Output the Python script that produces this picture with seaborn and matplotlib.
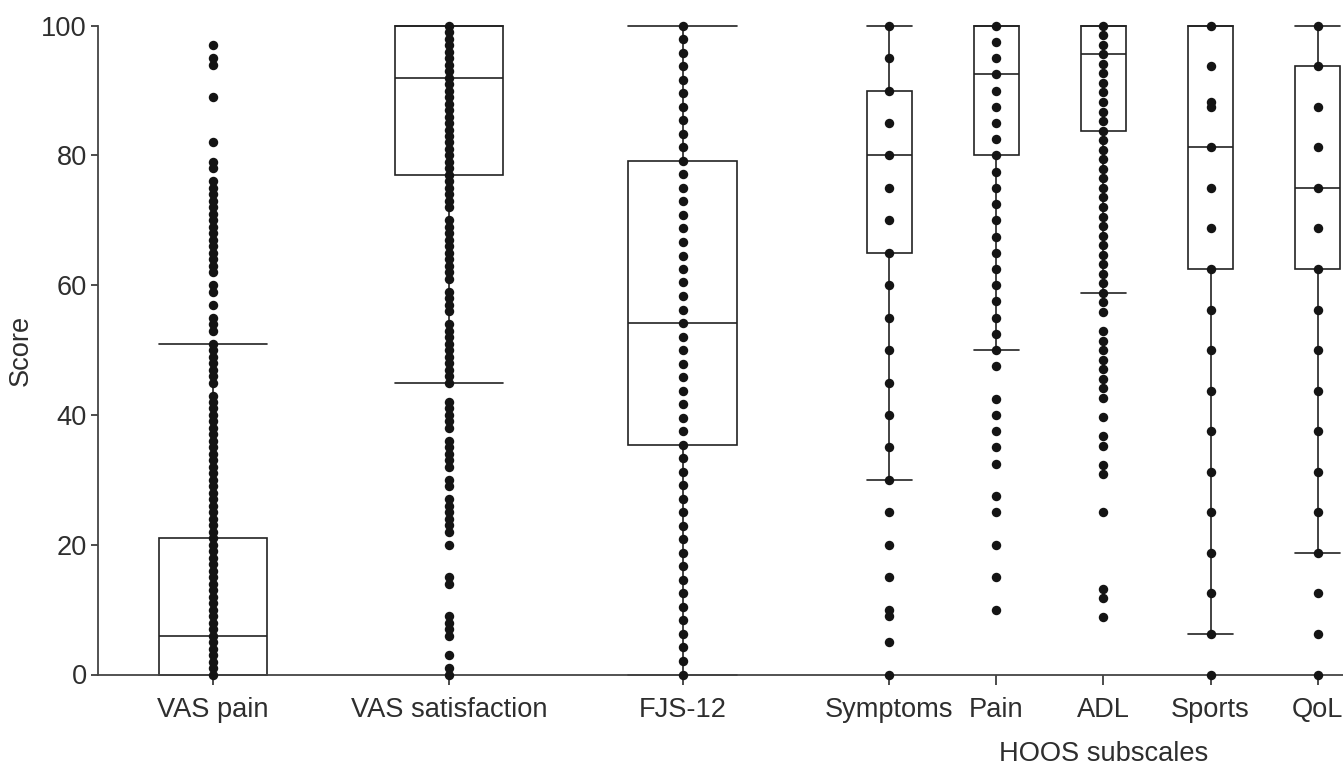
"""
plot.py - Patient-reported outcome scores: box plots with individual scores.
"""

import numpy as np
import pandas as pd
import matplotlib
matplotlib.use('Agg')
import matplotlib.pyplot as plt
import seaborn as sns

# ─────────────────────────────────────────────
# Data
# ─────────────────────────────────────────────

labels = ['VAS pain', 'VAS satisfaction', 'FJS-12',
          'Symptoms', 'Pain', 'ADL', 'Sports', 'QoL']

# box summaries: lower whisker, Q1, median, Q3, upper whisker
box_vas_pain = [0, 0, 6, 21, 51]
box_vas_sat  = [45, 77, 92, 100, 100]
box_fjs      = [0, 35.42, 54.17, 79.17, 100]
box_symptoms = [30, 65, 80, 90, 100]
box_pain     = [50, 80, 92.5, 100, 100]
box_adl      = [58.82, 83.82, 95.59, 100, 100]
box_sports   = [6.25, 62.5, 81.25, 100, 100]
box_qol      = [18.75, 62.5, 75, 93.75, 100]

# distinct individual scores shown as dots
dots_vas_pain = [0, 1, 2, 3, 4, 5, 6, 7, 8, 9, 10, 11, 12, 13, 14, 15, 16, 17,
                 18, 19, 20, 21, 22, 23, 24, 25, 26, 27, 28, 29, 30, 31, 32, 33,
                 34, 35, 36, 37, 38, 39, 40, 41, 42, 43, 45, 46, 47, 48, 49, 50,
                 51, 53, 54, 55, 57, 59, 60, 62, 63, 64, 65, 66, 67, 68, 69, 70,
                 71, 72, 73, 74, 75, 76, 78, 79, 82, 89, 94, 95, 97]
dots_vas_sat = [0, 1, 3, 6, 7, 8, 9, 14, 15, 20, 22, 23, 24, 25, 26, 27, 29, 30,
                32, 33, 34, 35, 36, 38, 39, 40, 41, 42, 45, 46, 47, 48, 49, 50,
                51, 52, 53, 54, 56, 57, 58, 59, 61, 62, 63, 64, 65, 66, 67, 68,
                69, 70, 72, 73, 74, 75, 76, 77, 78, 79, 80, 81, 82, 83, 84, 85,
                86, 87, 88, 89, 90, 91, 92, 93, 94, 95, 96, 97, 98, 99, 100]
dots_fjs = [0, 2.08, 4.17, 6.25, 8.33, 10.42, 12.5, 14.58, 16.67, 18.75, 20.83,
            22.92, 25, 27.08, 29.17, 31.25, 33.33, 35.42, 37.5, 39.58, 41.67,
            43.75, 45.83, 47.92, 50, 52.08, 54.17, 56.25, 58.33, 60.42, 62.5,
            64.58, 66.67, 68.75, 70.83, 72.92, 75, 77.08, 79.17, 81.25, 83.33,
            85.42, 87.5, 89.58, 91.67, 93.75, 95.83, 97.92, 100]
dots_symptoms = [0, 5, 9, 10, 15, 20, 25, 30, 35, 40, 45, 50, 55, 60, 65, 70,
                 75, 80, 85, 90, 95, 100]
dots_pain = [10, 15, 20, 25, 27.5, 32.5, 35, 37.5, 40, 42.5, 47.5, 50, 52.5, 55,
             57.5, 60, 62.5, 65, 67.5, 70, 72.5, 75, 77.5, 80, 82.5, 85, 87.5,
             90, 92.5, 95, 97.5, 100]
dots_adl = [8.82, 11.76, 13.24, 25.0, 30.88, 32.35, 35.29, 36.76, 39.71, 42.65,
            44.12, 45.59, 47.06, 48.53, 50.0, 51.47, 52.94, 55.88, 57.35, 58.82,
            60.29, 61.76, 63.24, 64.71, 66.18, 67.65, 69.12, 70.59, 72.06, 73.53,
            75.0, 76.47, 77.94, 79.41, 80.88, 82.35, 83.82, 85.29, 86.76, 88.24,
            89.71, 91.18, 92.65, 94.12, 95.59, 97.06, 98.53, 100]
dots_sports = [0, 6.25, 12.5, 18.75, 25, 31.25, 37.5, 43.75, 50, 56.25, 62.5,
               68.75, 75, 81.25, 87.5, 88.2, 93.75, 100]
dots_qol = [0, 6.25, 12.5, 18.75, 25, 31.25, 37.5, 43.75, 50, 56.25, 62.5,
            68.75, 75, 81.25, 87.5, 93.75, 100]

boxes = [box_vas_pain, box_vas_sat, box_fjs, box_symptoms,
         box_pain, box_adl, box_sports, box_qol]
dots = [dots_vas_pain, dots_vas_sat, dots_fjs, dots_symptoms,
        dots_pain, dots_adl, dots_sports, dots_qol]

# ─────────────────────────────────────────────
# Layout
# ─────────────────────────────────────────────

positions = [0, 2.2, 4.38, 6.306, 7.306, 8.306, 9.306, 10.306]
wide_groups = [0, 1, 2]          # VAS pain, VAS satisfaction, FJS-12
hoos_groups = [3, 4, 5, 6, 7]    # HOOS subscales
BOX_W = {'wide': 1.012, 'hoos': 0.42}   # box width in x units

INK = '#222222'
TXT = '#2e2e2e'
FS = 19.6


def long_frame(groups, values):
    rows = [(positions[i], v) for i in groups for v in values[i]]
    return pd.DataFrame(rows, columns=['pos', 'score'])


def draw_boxes(ax, groups, box_w):
    df = long_frame(groups, boxes)
    pos = sorted(positions[i] for i in groups)
    min_gap = np.diff(pos).min()
    n_before = len(ax.containers)
    sns.boxplot(data=df, x='pos', y='score', native_scale=True,
                width=box_w / min_gap, whis=np.inf, showfliers=False,
                color='white', saturation=1, linecolor=INK, linewidth=1.2,
                ax=ax)
    # caps as wide as the boxes
    for cont in ax.containers[n_before:]:
        for cap in getattr(cont, 'caps', []):
            mid = np.mean(cap.get_xdata())
            cap.set_xdata([mid - box_w / 2, mid + box_w / 2])


sns.set_style('ticks')
plt.rcParams['font.family'] = ['Liberation Sans', 'DejaVu Sans']

fig = plt.figure(figsize=(13.43, 7.65), dpi=100)
ax = fig.add_axes([98 / 1343, 1 - 674.5 / 765, 1245 / 1343, (674.5 - 25.7) / 765])

draw_boxes(ax, wide_groups, BOX_W['wide'])
draw_boxes(ax, hoos_groups, BOX_W['hoos'])

for art in ax.patches + ax.lines:
    art.set_clip_on(False)

all_idx = wide_groups + hoos_groups
sns.stripplot(data=long_frame(all_idx, dots), x='pos', y='score',
              native_scale=True, jitter=False, color='#141414', size=6.8,
              linewidth=0, zorder=3, clip_on=False, ax=ax)

ax.set_xlim(-1.073, 10.541)
ax.set_ylim(0, 100)
ax.set_yticks([0, 20, 40, 60, 80, 100])
ax.set_xticks(positions)
ax.set_xticklabels(labels)
ax.set_xlabel('')
ax.set_ylabel('Score', fontsize=FS, color=TXT, labelpad=5)

ax.tick_params(axis='both', labelsize=FS, colors=TXT, width=1.2)
ax.tick_params(axis='x', length=7, pad=9)
ax.tick_params(axis='y', length=5, pad=3)
for lab in ax.get_xticklabels() + ax.get_yticklabels():
    lab.set_color(TXT)

sns.despine(ax=ax)
for side in ['left', 'bottom']:
    ax.spines[side].set_color('#444444')
    ax.spines[side].set_linewidth(1.3)

hoos_mid = np.mean([positions[i] for i in hoos_groups])
ax.text(hoos_mid, -0.102, 'HOOS subscales', transform=ax.get_xaxis_transform(),
        ha='center', va='top', fontsize=FS, color=TXT)

fig.savefig('out.png', dpi=100)
plt.close(fig)
